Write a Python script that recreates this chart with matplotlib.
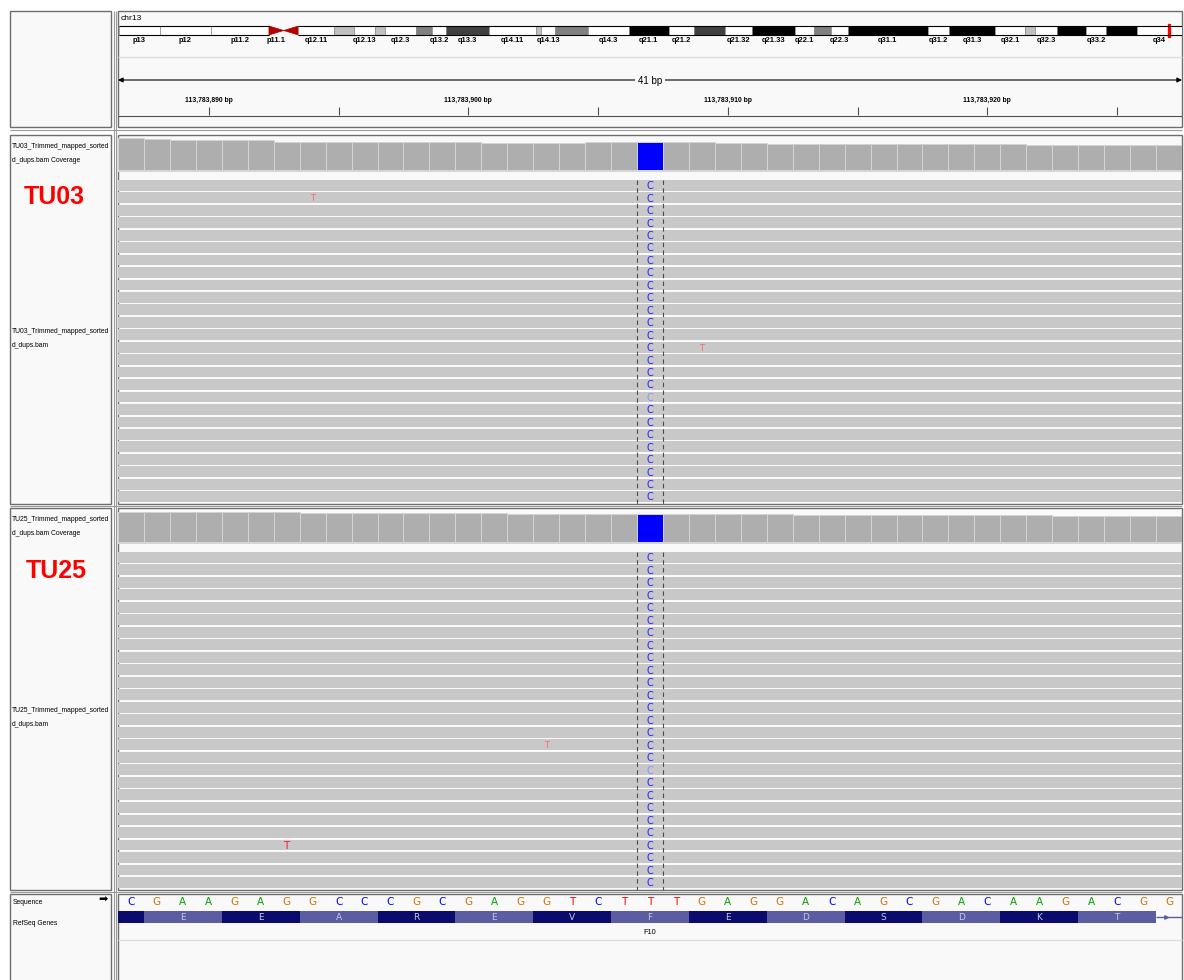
import matplotlib.pyplot as plt
from matplotlib.patches import Rectangle, Polygon

plt.rcParams['font.family'] = ['Liberation Sans', 'DejaVu Sans']

W, H = 1184, 980

# ---- chromosome ideogram (hg19 chr13, Mb) ----
chrom = 'chr13'
chrom_len = 115.17
band_names = ['p13', 'p12', 'p11.2', 'p11.1', 'q11', 'q12.11', 'q12.12', 'q12.13', 'q12.2', 'q12.3',
              'q13.1', 'q13.2', 'q13.3', 'q14.11', 'q14.12', 'q14.13', 'q14.2', 'q14.3',
              'q21.1', 'q21.2', 'q21.31', 'q21.32', 'q21.33', 'q22.1', 'q22.2', 'q22.3',
              'q31.1', 'q31.2', 'q31.3', 'q32.1', 'q32.2', 'q32.3', 'q33.1', 'q33.2', 'q33.3', 'q34']
band_starts = [0, 4.5, 10.0, 16.3, 17.9, 19.5, 23.3, 25.5, 27.8, 28.9,
               32.2, 34.0, 35.5, 40.1, 45.2, 45.8, 47.3, 50.9,
               55.3, 59.6, 62.3, 65.7, 68.6, 73.3, 75.4, 77.2,
               79.0, 87.7, 90.0, 95.0, 98.2, 99.3, 101.7, 104.8, 107.0, 110.3]
band_stains = ['gvar', 'stalk', 'gvar', 'acen', 'acen', 'gneg', 'gpos25', 'gneg', 'gpos25', 'gneg',
               'gpos50', 'gneg', 'gpos75', 'gneg', 'gpos25', 'gneg', 'gpos50', 'gneg',
               'gpos100', 'gneg', 'gpos75', 'gneg', 'gpos100', 'gneg', 'gpos50', 'gneg',
               'gpos100', 'gneg', 'gpos100', 'gneg', 'gpos25', 'gneg', 'gpos100', 'gneg', 'gpos100', 'gneg']
band_labels = ['p13', 'p12', 'p11.2', 'p11.1', 'q12.11', 'q12.13', 'q12.3', 'q13.2', 'q13.3',
               'q14.11', 'q14.13', 'q14.3', 'q21.1', 'q21.2', 'q21.32', 'q21.33', 'q22.1', 'q22.3',
               'q31.1', 'q31.2', 'q31.3', 'q32.1', 'q32.3', 'q33.2', 'q34']

# ---- locus ----
view_start = 113783887
sequence = 'CGAAGAGGCCCGCGAGGTCTTTGAGGACAGCGACAAGACGG'
snp_pos = 113783907
alt_base = 'C'
aa_start = 113783888
amino_acids = 'EEAREVFEDSDKT'
gene_name = 'F10'

# ---- samples ----
cov_tu03 = [147, 144, 141, 141, 138, 138, 131, 131, 131, 131, 131, 131, 131, 131, 128, 128, 128, 128,
            131, 131, 131, 131, 131, 128, 128, 122, 122, 122, 122, 122, 120, 120, 120, 120, 120,
            117, 117, 117, 115, 115, 115]
cov_tu25 = [163, 162, 162, 162, 162, 162, 162, 160, 160, 160, 157, 157, 157, 157, 157, 154, 154, 154,
            154, 154, 152, 150, 150, 150, 150, 150, 148, 148, 148, 148, 148, 145, 145, 145, 145, 145,
            143, 143, 143, 143, 143]
rows_tu03 = 26
rows_tu25 = 27
# (row, position, base, strong)
mism_tu03 = [(1, 113783894, 'T', False), (13, 113783909, 'T', False)]
mism_tu25 = [(15, 113783903, 'T', False), (23, 113783893, 'T', True)]
faint_tu03 = [17]
faint_tu25 = [17]

view_end = view_start + len(sequence) - 1
xmin, xmax = view_start - 0.5, view_end + 0.5

fig = plt.figure(figsize=(W / 100, H / 100), dpi=100)


def px_axes(x0, y0, x1, y1):
    ax = fig.add_axes([x0 / W, 1 - y1 / H, (x1 - x0) / W, (y1 - y0) / H])
    ax.set_axis_off()
    return ax


# background frames
bg = px_axes(0, 0, W, H)
bg.set_xlim(0, W)
bg.set_ylim(H, 0)
bg.add_patch(Rectangle((0, 0), W, H, fc='white', ec='none'))
panels = [(11, 127), (135, 504), (508, 890), (894, 985)]
for top, bot in panels:
    bg.add_patch(Rectangle((10, top), 101, bot - top, fc='#f9f9f9', ec='#6e6e6e', lw=1))
    bg.add_patch(Rectangle((118, top), 1064, bot - top, fc='#f9f9f9', ec='#6e6e6e', lw=1))
bg.vlines([113.5, 115.8], 11, H, color='#9a9a9a', lw=0.8)
for y in [130.5, 506, 892]:
    bg.hlines(y, 10, 1182, color='#9a9a9a', lw=0.8)
bg.hlines(57.5, 118, 1182, color='#dcdcdc', lw=1)
bg.text(121, 19, chrom, fontsize=6, va='center', ha='left')

# ideogram
ax = px_axes(118.5, 22, 1181.5, 46)
ax.set_xlim(0, chrom_len)
ax.set_ylim(46, 22)
stain_col = {'gneg': 'white', 'gvar': 'white', 'stalk': 'white', 'gpos25': '#c0c0c0',
             'gpos50': '#808080', 'gpos75': '#404040', 'gpos100': 'black', 'acen': '#b50000'}
band_ends = band_starts[1:] + [chrom_len]
for name, s, e, st in zip(band_names, band_starts, band_ends, band_stains):
    if st == 'acen':
        if name.startswith('p'):
            pts = [(s, 26), (e, 30.5), (s, 35)]
        else:
            pts = [(s, 30.5), (e, 26), (e, 35)]
        ax.add_patch(Polygon(pts, fc=stain_col[st], ec=stain_col[st], lw=0.5))
    else:
        ax.add_patch(Rectangle((s, 26), e - s, 9, fc=stain_col[st], ec='#8a8a8a', lw=0.5))
    if name in band_labels:
        ax.text((s + e) / 2, 41, name, ha='center', va='center', fontsize=5.4, fontweight='bold')
ax.hlines([26, 35], 0, band_starts[3], color='black', lw=0.8)
ax.hlines([26, 35], band_starts[5], chrom_len, color='black', lw=0.8)
locus_mb = snp_pos / 1e6
ax.add_patch(Rectangle((locus_mb - 0.12, 24), 0.24, 13, fc='red', ec='red', lw=1))

# ruler
ax = px_axes(118, 60, 1182, 127)
ax.set_xlim(xmin, xmax)
ax.set_ylim(127, 60)
ax.annotate('', xy=(xmax, 80), xytext=(xmin, 80),
            arrowprops=dict(arrowstyle='<|-|>', color='black', lw=0.8, mutation_scale=7,
                            shrinkA=0, shrinkB=0))
ax.text((xmin + xmax) / 2, 80.5, f'{len(sequence)} bp', ha='center', va='center', fontsize=7,
        bbox=dict(fc='#f9f9f9', ec='none', pad=2))
ticks = [p for p in range(view_start, view_end + 1) if p % 5 == 0]
ax.vlines(ticks, 107, 115, color='#505050', lw=0.8)
for p in ticks:
    if p % 10 == 0:
        ax.text(p, 100, f'{p:,} bp', ha='center', va='center', fontsize=4.9, fontweight='bold')
ax.hlines(116.5, xmin, xmax, color='#505050', lw=0.8)


def draw_sample(name, cov, nrows, mism, faint, y_cov0, y_cov1, y_reads, pitch, y_names, big_xy):
    lab = dict(fontsize=4.9, va='center')
    bg.text(12, y_names[0], f'{name}_Trimmed_mapped_sorted', **lab)
    bg.text(12, y_names[1], 'd_dups.bam Coverage', **lab)
    bg.text(12, y_names[2], f'{name}_Trimmed_mapped_sorted', **lab)
    bg.text(12, y_names[3], 'd_dups.bam', **lab)
    bg.text(big_xy[0], big_xy[1], name, color='red', fontsize=18, fontweight='bold',
            ha='center', va='center')

    ax = px_axes(118, y_cov0, 1182, y_cov1)
    ax.set_xlim(xmin, xmax)
    ax.set_ylim(0, max(cov))
    pos = list(range(view_start, view_end + 1))
    cols = ['#0000ff' if p == snp_pos else '#aeaeae' for p in pos]
    ax.bar(pos, cov, width=1, color=cols, edgecolor='#d4d4d4', linewidth=0.7)
    bg.text(121, y_cov0 + 3, f'[0 - {max(cov)}]', fontsize=4.3, va='center', color='#333333')
    bg.hlines(y_cov1 + 1, 118, 1182, color='#d6d6d6', lw=1.5)

    ax = px_axes(118, y_reads, 1182, y_reads + nrows * pitch)
    ax.set_xlim(xmin, xmax)
    ax.set_ylim(nrows, 0)
    ax.barh(list(range(nrows)), xmax - xmin, left=xmin, height=0.86, align='edge', color='#c8c8c8')
    ax.vlines([snp_pos - 0.5, snp_pos + 0.5], 0, nrows, colors='#4a4a4a',
              linestyles=(0, (4, 3)), lw=0.8)
    for r in range(nrows):
        col = '#8c8cff' if r in faint else '#2020ff'
        ax.text(snp_pos, r + 0.5, alt_base, color=col, fontsize=7, ha='center', va='center',
                family='DejaVu Sans')
    for r, p, b, strong in mism:
        ax.text(p, r + 0.5, b, color='#ff2020' if strong else '#ff6a6a',
                fontsize=7.5 if strong else 6, ha='center', va='center', family='DejaVu Sans')


draw_sample('TU03', cov_tu03, rows_tu03, mism_tu03, faint_tu03, 138.5, 170.5, 180, 12.45,
            (147, 161, 331, 345), (54, 197))
draw_sample('TU25', cov_tu25, rows_tu25, mism_tu25, faint_tu25, 512, 542, 552, 12.5,
            (519, 533, 710, 724), (56, 571))

# sequence + gene track
bg.text(13, 902, 'Sequence', fontsize=4.9, va='center')
bg.text(103, 900, '\u27a1', fontsize=8, va='center', ha='center', family='DejaVu Sans')
bg.text(13, 923, 'RefSeq Genes', fontsize=4.9, va='center')
bg.hlines(939.5, 118, 1182, color='#dcdcdc', lw=1)

ax = px_axes(118, 895, 1182, 980)
ax.set_xlim(xmin, xmax)
ax.set_ylim(980, 895)
base_col = {'A': '#00a000', 'C': '#0000ff', 'G': '#d17105', 'T': '#ff0000'}
for i, b in enumerate(sequence):
    ax.text(view_start + i, 902, b, color=base_col[b], fontsize=7.5, ha='center', va='center',
            family='DejaVu Sans')
dark, light = '#0b0b6e', '#5c5ca2'
ax.add_patch(Rectangle((xmin, 911), aa_start - 0.5 - xmin, 12, fc=dark, ec='none'))
for k, aa in enumerate(amino_acids):
    s = aa_start + 3 * k - 0.5
    ax.add_patch(Rectangle((s, 911), 3, 12, fc=light if k % 2 == 0 else dark, ec='none'))
    ax.text(s + 1.5, 917, aa, color='#c8c8e0', fontsize=6.5, ha='center', va='center',
            family='DejaVu Sans')
cds_end = aa_start + 3 * len(amino_acids) - 0.5
ax.hlines(917, cds_end, xmax, color=light, lw=1)
ax.plot(cds_end + 0.37, 917, marker='>', ms=2.5, color=light)
ax.text((xmin + xmax) / 2, 932, gene_name, fontsize=5.3, ha='center', va='center')

fig.savefig('out.png', dpi=100)
